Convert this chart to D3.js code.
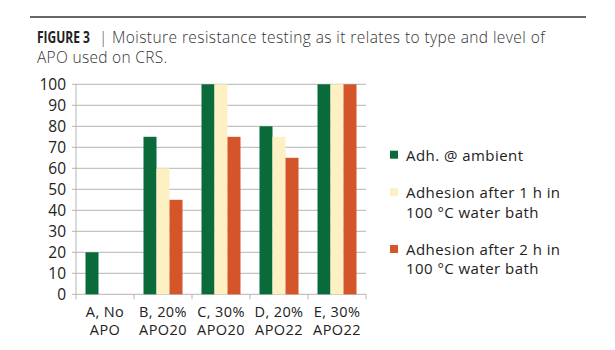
<!DOCTYPE html>
<html><head><meta charset="utf-8">
<script src="https://cdn.jsdelivr.net/npm/d3@7"></script>
<style>
html,body{margin:0;padding:0;background:#fff;}
svg text{font-family:"Open Sans","Noto Sans",sans-serif;}
</style></head>
<body><svg id="c" width="615" height="350"></svg>
<script>
const categories = [["A, No","APO"],["B, 20%","APO20"],["C, 30%","APO20"],["D, 20%","APO22"],["E, 30%","APO22"]];
const seriesNames = [["Adh. @ ambient"],["Adhesion after 1 h in","100 °C water bath"],["Adhesion after 2 h in","100 °C water bath"]];
const ambient = [20, 75, 100, 80, 100];
const after1h = [0, 60, 100, 75, 100];
const after2h = [0, 45, 75, 65, 100];
const yTicks = [0,10,20,30,40,50,60,70,80,90,100];
const colors = ["#0b6a3a","#fdf0c2","#d4552a"];

const series = [ambient, after1h, after2h];
const svg = d3.select("#c");

// top rule & title
svg.append("line").attr("x1",30).attr("x2",586).attr("y1",17).attr("y2",17)
  .attr("stroke","#333").attr("stroke-width",1.3);
const fig = svg.append("text").attr("x",0).attr("y",0).attr("fill","#222").style("font-size","15.5px")
  .attr("font-weight","bold").text("FIGURE 3");
const natW = fig.node().getComputedTextLength() || 70;
fig.attr("transform",`translate(37,43) scale(${53/natW},1)`);
svg.append("text").attr("x",99).attr("y",43).attr("fill","#555").style("font-size","15.5px").style("font-weight",300).text("|");
svg.append("text").attr("x",112).attr("y",43).attr("fill","#333").style("font-size","15.5px").style("font-weight",300)
  .style("letter-spacing","0.42px").text("Moisture resistance testing as it relates to type and level of");
svg.append("text").attr("x",37).attr("y",63.2).attr("fill","#333").style("font-size","15.5px").style("font-weight",300)
  .style("letter-spacing","0.3px").text("APO used on CRS.");

const x0 = d3.scaleBand().domain(d3.range(categories.length)).range([76,366]).paddingInner(0).paddingOuter(0);
const x1 = d3.scaleBand().domain(d3.range(3)).range([9.5, x0.bandwidth()-9.5]).padding(0);
const y = d3.scaleLinear().domain([0,100]).range([294.3,84.3]);

// gridlines
const g = svg.append("g");
g.selectAll("line.grid").data(yTicks).join("line")
  .attr("x1",72).attr("x2",366).attr("y1",d=>y(d)).attr("y2",d=>y(d))
  .attr("stroke","#b5b5b5").attr("stroke-width",1);
g.append("line").attr("x1",76).attr("x2",76).attr("y1",y(100)).attr("y2",y(0)).attr("stroke","#b5b5b5");
// x ticks
const bounds = d3.range(categories.length+1).map(i => i<categories.length ? x0(i) : 366);
g.selectAll("line.xt").data(bounds).join("line")
  .attr("x1",d=>d).attr("x2",d=>d).attr("y1",y(0)).attr("y2",y(0)+5).attr("stroke","#b5b5b5");

// y labels
svg.selectAll("text.yl").data(yTicks).join("text")
  .attr("x",66).attr("y",d=>y(d)+5.5).attr("text-anchor","end")
  .attr("fill","#222").style("font-size","15.5px").text(d=>d);

// bars
categories.forEach((c,i)=>{
  series.forEach((s,j)=>{
    if (s[i] > 0) {
      svg.append("rect").attr("x",x0(i)+x1(j)).attr("width",x1.bandwidth())
        .attr("y",y(s[i])).attr("height",y(0)-y(s[i])).attr("fill",colors[j]);
    }
  });
});

// x labels
categories.forEach((c,i)=>{
  c.forEach((line,k)=>{
    svg.append("text").attr("x",x0(i)+x0.bandwidth()/2).attr("y",316.7+k*18.6)
      .attr("text-anchor","middle").attr("fill","#222").style("font-size","14.5px")
      .style("letter-spacing","0.4px").text(line);
  });
});

// legend
const legY = [160.7, 198.3, 255];
seriesNames.forEach((lines,j)=>{
  svg.append("rect").attr("x",390).attr("y",legY[j]-10).attr("width",8).attr("height",8).attr("fill",colors[j]);
  lines.forEach((l,k)=>{
    svg.append("text").attr("x",406).attr("y",legY[j]+k*19.3).attr("fill","#222")
      .style("font-size","15px").style("letter-spacing","0.45px").text(l);
  });
});
</script></body></html>
